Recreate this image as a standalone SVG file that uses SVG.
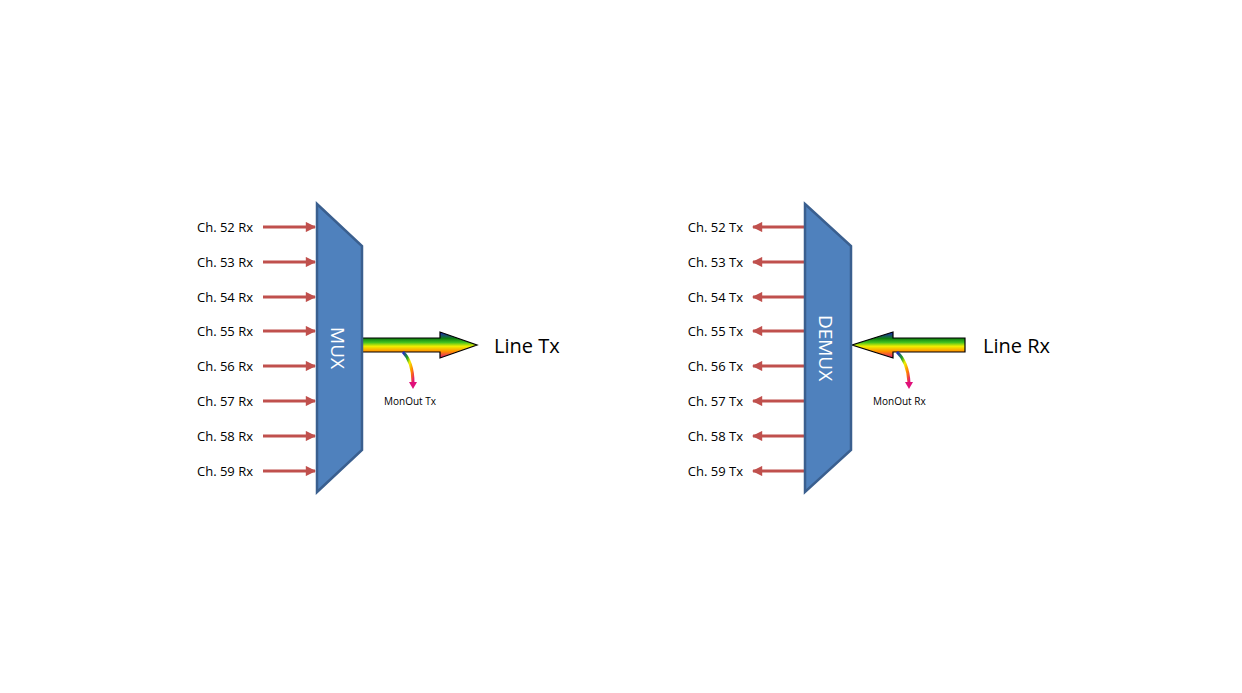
<svg xmlns="http://www.w3.org/2000/svg" width="1242" height="693" viewBox="0 0 1242 693">
<defs>
<style>
.lbl{font-family:"Open Sans","Liberation Sans",sans-serif;font-size:13px;fill:#000}
.big{font-family:"Open Sans","Liberation Sans",sans-serif;font-size:20px;fill:#000}
.small{font-family:"Open Sans","Liberation Sans",sans-serif;font-size:10px;fill:#000}
.box{fill:#4f81bd;stroke:#3a5f8f;stroke-width:2.5}
.red{stroke:#c0504d;stroke-width:3}
.name{font-family:"Open Sans","Liberation Sans",sans-serif;font-size:19px;fill:#fff}
</style>
<marker id="rh" viewBox="0 0 10 10" refX="9" refY="5" markerWidth="4" markerHeight="3.4" orient="auto" markerUnits="strokeWidth"><path d="M0,0L10,5L0,10z" fill="#c0504d"/></marker>
<linearGradient id="rb" x1="0" y1="332" x2="0" y2="358" gradientUnits="userSpaceOnUse">
<stop offset="0" stop-color="#2020d0"/><stop offset="0.25" stop-color="#108010"/><stop offset="0.4" stop-color="#40c020"/><stop offset="0.55" stop-color="#f0f000"/><stop offset="0.75" stop-color="#ff9000"/><stop offset="1" stop-color="#e0107a"/>
</linearGradient>
<linearGradient id="mg" x1="0" y1="0" x2="1" y2="1">
<stop offset="0" stop-color="#2020d0"/><stop offset="0.3" stop-color="#20a020"/><stop offset="0.5" stop-color="#f0f000"/><stop offset="0.75" stop-color="#ff8000"/><stop offset="1" stop-color="#e0107a"/>
</linearGradient>
</defs>
<rect width="1242" height="693" fill="#fff"/>
<g id="connectors">
<g class="red" marker-end="url(#rh)">
<line x1="263" y1="227" x2="315" y2="227"/><line x1="263" y1="262" x2="315" y2="262"/><line x1="263" y1="297" x2="315" y2="297"/><line x1="263" y1="331" x2="315" y2="331"/><line x1="263" y1="366" x2="315" y2="366"/><line x1="263" y1="401" x2="315" y2="401"/><line x1="263" y1="436" x2="315" y2="436"/><line x1="263" y1="471" x2="315" y2="471"/>
<line x1="805" y1="227" x2="753" y2="227"/><line x1="805" y1="262" x2="753" y2="262"/><line x1="805" y1="297" x2="753" y2="297"/><line x1="805" y1="331" x2="753" y2="331"/><line x1="805" y1="366" x2="753" y2="366"/><line x1="805" y1="401" x2="753" y2="401"/><line x1="805" y1="436" x2="753" y2="436"/><line x1="805" y1="471" x2="753" y2="471"/>
</g>
<path id="linetx" d="M362,338H440V332L477,345L440,358V352H362Z" fill="url(#rb)" stroke="#000" stroke-width="1.2"/>
<path id="linerx" d="M965,338H893V332L852,345L893,358V352H965Z" fill="url(#rb)" stroke="#000" stroke-width="1.2"/>
<path d="M403,352Q413,362 413,383" fill="none" stroke="url(#mg)" stroke-width="3"/>
<path d="M409,382L417,382L413,389Z" fill="#e0107a"/>
<path d="M897,352Q908,362 909,383" fill="none" stroke="url(#mg)" stroke-width="3"/>
<path d="M905,382L913,382L909,389Z" fill="#e0107a"/>
</g>
<g id="mux">
<path class="box" d="M317,204L362,246V450L317,492Z"/>
<text class="name" transform="translate(331,348) rotate(90)" text-anchor="middle">MUX</text>
</g>
<g id="demux">
<path class="box" d="M805,204L851,246V450L805,492Z"/>
<text class="name" transform="translate(819,348) rotate(90)" text-anchor="middle">DEMUX</text>
</g>
<g id="labels">
<g class="lbl" text-anchor="end">
<text x="253" y="232">Ch. 52 Rx</text><text x="253" y="267">Ch. 53 Rx</text><text x="253" y="302">Ch. 54 Rx</text><text x="253" y="336">Ch. 55 Rx</text><text x="253" y="371">Ch. 56 Rx</text><text x="253" y="406">Ch. 57 Rx</text><text x="253" y="441">Ch. 58 Rx</text><text x="253" y="476">Ch. 59 Rx</text>
<text x="743" y="232">Ch. 52 Tx</text><text x="743" y="267">Ch. 53 Tx</text><text x="743" y="302">Ch. 54 Tx</text><text x="743" y="336">Ch. 55 Tx</text><text x="743" y="371">Ch. 56 Tx</text><text x="743" y="406">Ch. 57 Tx</text><text x="743" y="441">Ch. 58 Tx</text><text x="743" y="476">Ch. 59 Tx</text>
</g>
<text class="big" x="494" y="353">Line Tx</text>
<text class="big" x="983" y="353">Line Rx</text>
<text class="small" x="384" y="405">MonOut Tx</text>
<text class="small" x="873" y="405">MonOut Rx</text>
</g>
</svg>
